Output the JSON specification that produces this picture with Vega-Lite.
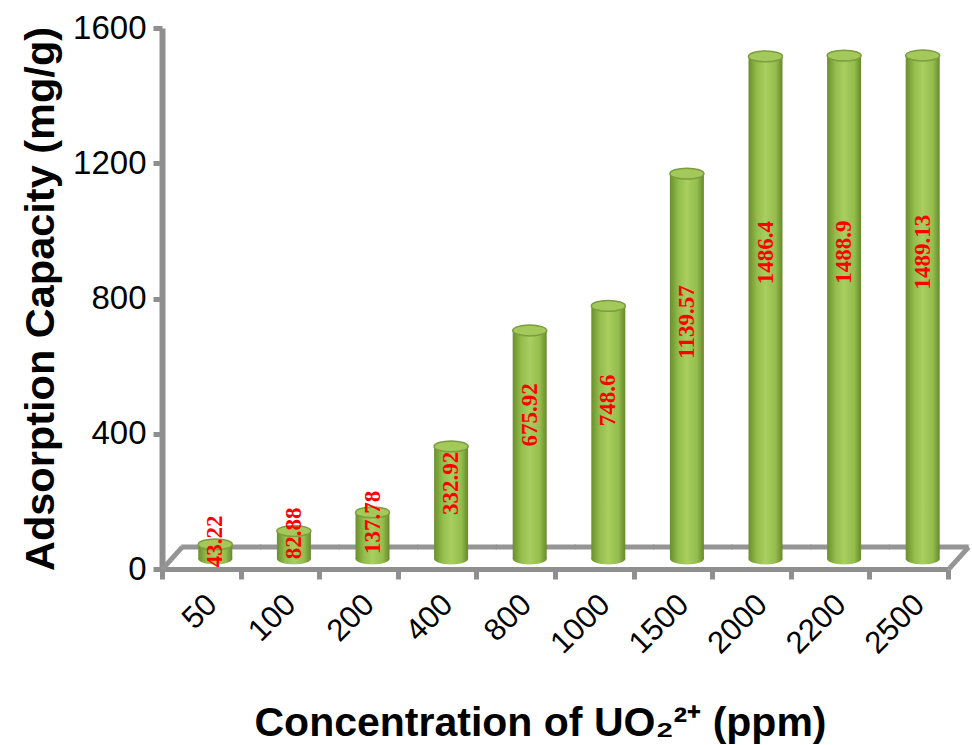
{
  "$schema": "https://vega.github.io/schema/vega-lite/v6.json",
  "width": 786,
  "height": 541,
  "autosize": "none",
  "padding": {"left": 162, "top": 28, "right": 24, "bottom": 176},
  "background": "white",
  "config": {
    "view": {"stroke": null},
    "axis": {
      "grid": false,
      "domainColor": "#8f8f8f",
      "tickColor": "#8f8f8f",
      "labelColor": "#000000",
      "titleColor": "#000000",
      "labelFont": "Liberation Sans",
      "titleFont": "Liberation Sans",
      "titleFontWeight": "bold"
    }
  },
  "data": {
    "values": [
      {"c": "50", "v": 43.22},
      {"c": "100", "v": 82.88},
      {"c": "200", "v": 137.78},
      {"c": "400", "v": 332.92},
      {"c": "800", "v": 675.92},
      {"c": "1000", "v": 748.6},
      {"c": "1500", "v": 1139.57},
      {"c": "2000", "v": 1486.4},
      {"c": "2200", "v": 1488.9},
      {"c": "2500", "v": 1489.13}
    ]
  },
  "encoding": {
    "x": {
      "field": "c",
      "type": "ordinal",
      "sort": null,
      "scale": {"paddingInner": 0, "paddingOuter": 0},
      "axis": {
        "title": "Concentration of UO₂²⁺ (ppm)",
        "titleFontSize": 41,
        "titlePadding": 45,
        "titleLimit": 900,
        "titleX": 378,
        "labelAngle": -45,
        "labelFontSize": 31,
        "labelPadding": 10,
        "labelOffset": 0,
        "tickBand": "extent",
        "tickSize": 10,
        "tickWidth": 5,
        "domainWidth": 5
      }
    }
  },
  "layer": [
    {
      "layer": [
        {
          "description": "back edge of the chart floor",
          "mark": {"type": "tick", "orient": "horizontal", "size": 80, "thickness": 5, "color": "#959595", "xOffset": 20, "opacity": 1},
          "encoding": {"y": {"datum": 65, "type": "quantitative"}}
        },
        {
          "description": "left slanted edge of the floor",
          "data": {"values": [{}]},
          "mark": {"type": "point", "shape": "M-0.9,1L0.9,-1", "size": 484, "filled": false, "stroke": "#959595", "strokeWidth": 5, "opacity": 1, "xOffset": -29},
          "encoding": {"x": {"datum": "50", "type": "ordinal"}, "y": {"datum": 32, "type": "quantitative"}}
        },
        {
          "description": "right slanted edge of the floor",
          "data": {"values": [{}]},
          "mark": {"type": "point", "shape": "M-0.9,1L0.9,-1", "size": 484, "filled": false, "stroke": "#959595", "strokeWidth": 5, "opacity": 1, "xOffset": 50},
          "encoding": {"x": {"datum": "2500", "type": "ordinal"}, "y": {"datum": 32, "type": "quantitative"}}
        },
        {
          "description": "cylinder bodies",
          "mark": {
            "type": "bar",
            "width": 34,
            "xOffset": 14,
            "yOffset": -10,
            "y2Offset": -10,
            "color": {
              "gradient": "linear",
              "x1": 0, "y1": 0, "x2": 1, "y2": 0,
              "stops": [
                {"offset": 0, "color": "#6a8f2c"},
                {"offset": 0.25, "color": "#93bd4c"},
                {"offset": 0.5, "color": "#a8cf60"},
                {"offset": 0.8, "color": "#93bd4c"},
                {"offset": 1, "color": "#67892b"}
              ]
            }
          },
          "encoding": {
            "y": {
              "field": "v",
              "type": "quantitative",
              "scale": {"domain": [0, 1600], "nice": false},
              "axis": {
                "title": "Adsorption Capacity (mg/g)",
                "titleFontSize": 41.5,
                "titlePadding": 10,
                "titleLimit": 900,
                "values": [0, 400, 800, 1200, 1600],
                "format": "d",
                "labelFontSize": 33,
                "labelPadding": 7,
                "tickSize": 9,
                "tickWidth": 5,
                "domainWidth": 6
              }
            },
            "y2": {"datum": 0}
          }
        },
        {
          "description": "rounded base of each cylinder",
          "mark": {
            "type": "point",
            "shape": "M-1,0A1,0.32,0,1,1,1,0A1,0.32,0,1,1,-1,0Z",
            "size": 1156,
            "filled": true,
            "opacity": 1,
            "xOffset": 14,
            "yOffset": -10,
            "fill": {
              "gradient": "linear",
              "x1": 0, "y1": 0, "x2": 1, "y2": 0,
              "stops": [
                {"offset": 0, "color": "#6a8f2c"},
                {"offset": 0.25, "color": "#93bd4c"},
                {"offset": 0.5, "color": "#a8cf60"},
                {"offset": 0.8, "color": "#93bd4c"},
                {"offset": 1, "color": "#67892b"}
              ]
            }
          },
          "encoding": {"y": {"datum": 0, "type": "quantitative"}}
        },
        {
          "description": "cylinder tops",
          "mark": {
            "type": "point",
            "shape": "M-1,0A1,0.32,0,1,1,1,0A1,0.32,0,1,1,-1,0Z",
            "size": 1156,
            "filled": true,
            "opacity": 1,
            "xOffset": 14,
            "yOffset": -10,
            "fill": "#a2c95a",
            "stroke": "#7c9c40",
            "strokeWidth": 1.5
          },
          "encoding": {"y": {"field": "v", "type": "quantitative"}}
        }
      ]
    },
    {
      "description": "value labels, set along each cylinder on a scale of their own",
      "mark": {
        "type": "text",
        "angle": 270,
        "align": "center",
        "baseline": "middle",
        "font": "Liberation Serif",
        "fontSize": 23,
        "fontWeight": "bold",
        "color": "#ff0000",
        "xOffset": 14
      },
      "encoding": {
        "y": {"field": "v", "type": "quantitative", "scale": {"domain": [-95, 2610], "nice": false, "zero": false}, "axis": null},
        "text": {"field": "v", "type": "nominal"}
      }
    }
  ],
  "resolve": {"scale": {"y": "independent"}}
}
